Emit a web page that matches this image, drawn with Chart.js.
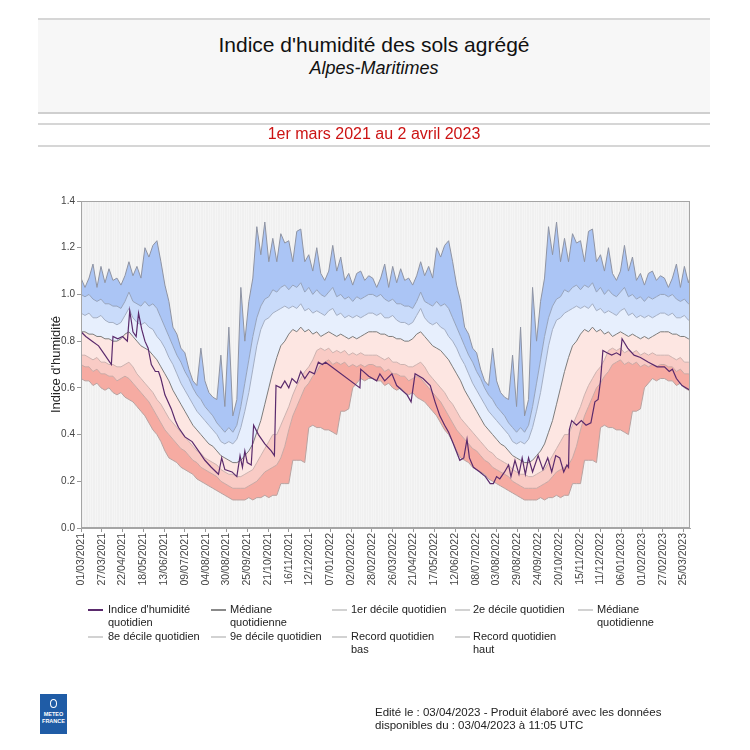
<!DOCTYPE html>
<html lang="fr">
<head>
<meta charset="utf-8">
<title>Indice d'humidité des sols agrégé</title>
<script src="https://cdn.jsdelivr.net/npm/chart.js@4.4.1/dist/chart.umd.min.js"></script>
<style>
  body { margin: 0; background: #fff; font-family: "Liberation Sans", Arial, sans-serif; color: #222; }
  #page { position: relative; width: 750px; height: 750px; overflow: hidden; }
  #chart { position: absolute; left: 0; top: 0; }
  .hline { position: absolute; left: 38px; width: 672px; height: 2px; background: #d6d6d6; }
  #hdr { position: absolute; left: 38px; top: 20px; width: 672px; height: 93px; background: #f7f7f7; }
  .ctr { position: absolute; left: 38px; width: 672px; text-align: center; white-space: nowrap; }
  #title { top: 33px; font-size: 21px; line-height: 24px; color: #111; }
  #sub { top: 58px; font-size: 18px; line-height: 21px; font-style: italic; color: #111; }
  #period { top: 125px; font-size: 16px; line-height: 18px; color: #cc1414; }
  .lg { position: absolute; font-size: 11px; line-height: 13px; color: #222; white-space: nowrap; }
  .sw { position: absolute; width: 15px; height: 1.5px; }
  #logo { position: absolute; left: 40px; top: 694px; width: 27px; height: 40px; background: #1f5ca6; color: #fff;
          font-weight: bold; font-size: 5.5px; line-height: 6.5px; text-align: center; }
  #logo .ico { margin: 5px auto 3px; width: 7px; height: 9px; border: 1.5px solid #fff; border-radius: 50%; box-sizing: border-box; }
  #foot { position: absolute; left: 375px; top: 706px; font-size: 11.5px; line-height: 13px; color: #222; white-space: nowrap; }
</style>
</head>
<body>
<div id="page">
  <canvas id="chart" width="750" height="750"></canvas>
  <div class="hline" style="top:18px"></div>
  <div id="hdr"></div>
  <div class="hline" style="top:112px;background:#cfcfcf"></div>
  <div class="hline" style="top:123px"></div>
  <div class="hline" style="top:145px"></div>
  <div id="title" class="ctr">Indice d'humidité des sols agrégé</div>
  <div id="sub" class="ctr">Alpes-Maritimes</div>
  <div id="period" class="ctr">1er mars 2021 au 2 avril 2023</div>
  <div id="legend"></div>
  <div id="logo"><div class="ico"></div>METEO<br>FRANCE</div>
  <div id="foot">Edité le : 03/04/2023 - Produit élaboré avec les données<br>disponibles du : 03/04/2023 à 11:05 UTC</div>
</div>
<script>
// x tick positions (days since 01/03/2021) and their labels
const tickDays = [0, 26, 52, 78, 104, 130, 156, 182, 208, 234, 260, 286, 312, 338, 364,
                  390, 416, 442, 468, 494, 520, 546, 572, 598, 624, 650, 676, 702, 728, 754];
const tickLabels = ['01/03/2021', '27/03/2021', '22/04/2021', '18/05/2021', '13/06/2021', '09/07/2021',
  '04/08/2021', '30/08/2021', '25/09/2021', '21/10/2021', '16/11/2021', '12/12/2021', '07/01/2022',
  '02/02/2022', '28/02/2022', '26/03/2022', '21/04/2022', '17/05/2022', '12/06/2022', '08/07/2022',
  '03/08/2022', '29/08/2022', '24/09/2022', '20/10/2022', '15/11/2022', '11/12/2022', '06/01/2023',
  '01/02/2023', '27/02/2023', '25/03/2023'];
const lastDay = 762; // 02/04/2023

// daily climatology, one value every 5 days starting 1 March (same each year)
const recordHaut = [1.07,1.03,1.07,1.13,1.03,1.12,1.05,1.11,1.06,1.07, 1.04,1.08,1.14,1.08,1.12,1.07,1.20,1.16,1.21,1.23,
  1.14,1.04,0.97,0.86,0.83,0.77,0.75,0.68,0.63,0.61, 0.77,0.63,0.58,0.56,0.55,0.74,0.52,0.86,0.48,0.55,
  1.03,0.80,0.97,1.07,1.29,1.17,1.31,1.14,1.24,1.14, 1.26,1.22,1.23,1.14,1.27,1.28,1.14,1.17,1.10,1.20,
  1.09,1.06,1.10,1.21,1.10,1.16,1.06,1.09,1.04,1.09, 1.10,1.06,1.08];
const decile9 = [1.00,0.99,1.00,0.98,0.97,0.98,0.96,0.96,0.95,0.95, 0.94,0.97,1.01,0.97,0.96,0.95,0.97,0.95,0.96,0.94,
  0.90,0.86,0.82,0.78,0.74,0.71,0.67,0.64,0.60,0.57, 0.55,0.52,0.50,0.48,0.45,0.43,0.41,0.43,0.41,0.44,
  0.52,0.62,0.72,0.82,0.90,0.95,0.98,0.99,1.02,1.01, 1.03,1.04,1.02,1.04,1.03,1.05,1.01,1.03,1.00,1.02,
  1.00,0.99,1.01,1.03,0.99,1.00,0.98,0.99,0.97,0.99, 0.98,0.99,1.00];
const decile8 = [0.92,0.91,0.92,0.90,0.90,0.91,0.89,0.88,0.88,0.87, 0.88,0.91,0.94,0.90,0.88,0.87,0.88,0.86,0.85,0.82,
  0.80,0.77,0.73,0.70,0.66,0.62,0.59,0.56,0.53,0.50, 0.48,0.46,0.44,0.42,0.40,0.37,0.36,0.37,0.36,0.38,
  0.43,0.50,0.58,0.68,0.78,0.85,0.89,0.90,0.92,0.93, 0.94,0.95,0.94,0.95,0.94,0.96,0.93,0.94,0.92,0.93,
  0.92,0.91,0.93,0.94,0.91,0.92,0.90,0.91,0.90,0.91, 0.90,0.91,0.92];
const mediane = [0.84,0.84,0.83,0.83,0.82,0.82,0.81,0.81,0.80,0.80, 0.81,0.83,0.84,0.82,0.80,0.78,0.77,0.76,0.74,0.72,
  0.69,0.66,0.63,0.59,0.56,0.53,0.50,0.47,0.44,0.42, 0.40,0.38,0.36,0.35,0.33,0.31,0.30,0.29,0.28,0.28,
  0.29,0.31,0.33,0.36,0.41,0.46,0.53,0.60,0.67,0.73, 0.78,0.80,0.83,0.85,0.84,0.86,0.84,0.85,0.83,0.84,
  0.82,0.83,0.84,0.83,0.82,0.83,0.82,0.81,0.82,0.81, 0.82,0.83,0.84];
const decile2 = [0.74,0.74,0.73,0.72,0.73,0.71,0.71,0.70,0.70,0.69, 0.69,0.70,0.71,0.69,0.66,0.64,0.62,0.60,0.58,0.55,
  0.53,0.50,0.47,0.45,0.43,0.41,0.39,0.37,0.35,0.33, 0.32,0.30,0.29,0.28,0.27,0.25,0.24,0.23,0.23,0.22,
  0.22,0.23,0.24,0.25,0.28,0.31,0.34,0.37,0.40,0.40, 0.44,0.48,0.52,0.57,0.61,0.64,0.67,0.69,0.72,0.76,
  0.77,0.76,0.77,0.75,0.76,0.75,0.76,0.74,0.75,0.74, 0.75,0.74,0.74];
const decile1 = [0.70,0.69,0.69,0.67,0.68,0.66,0.66,0.65,0.65,0.63, 0.64,0.65,0.64,0.62,0.60,0.58,0.56,0.54,0.51,0.48,
  0.45,0.42,0.40,0.38,0.36,0.34,0.33,0.31,0.29,0.28, 0.26,0.25,0.24,0.23,0.22,0.20,0.19,0.18,0.17,0.17,
  0.17,0.17,0.18,0.19,0.20,0.22,0.24,0.25,0.26,0.27, 0.30,0.35,0.42,0.48,0.52,0.56,0.60,0.62,0.65,0.67,
  0.70,0.71,0.72,0.70,0.71,0.70,0.71,0.69,0.70,0.69, 0.70,0.69,0.70];
const recordBas = [0.64,0.63,0.63,0.61,0.62,0.60,0.59,0.60,0.58,0.57, 0.58,0.56,0.55,0.54,0.52,0.50,0.48,0.45,0.42,0.40,
  0.37,0.33,0.30,0.29,0.28,0.26,0.25,0.24,0.23,0.21, 0.20,0.19,0.18,0.17,0.16,0.15,0.14,0.13,0.12,0.12,
  0.12,0.12,0.13,0.12,0.13,0.13,0.14,0.13,0.14,0.14, 0.19,0.19,0.19,0.29,0.29,0.29,0.28,0.43,0.44,0.43,
  0.43,0.42,0.42,0.41,0.40,0.50,0.50,0.51,0.60,0.62, 0.64,0.63,0.64];

// observed daily index: [day since 01/03/2021, value]
const indice = [[0,0.84],[6,0.82],[14,0.80],[22,0.78],[30,0.74],[38,0.70],[40,0.82],[46,0.81],[52,0.82],[58,0.80],
  [61,0.93],[65,0.84],[69,0.82],[72,0.92],[76,0.85],[80,0.80],[84,0.77],[88,0.70],[93,0.67],[97,0.67],[100,0.64],
  [105,0.57],[113,0.51],[118,0.46],[122,0.43],[130,0.39],[139,0.37],[147,0.33],[155,0.29],[163,0.26],[172,0.23],
  [176,0.30],[180,0.25],[189,0.24],[195,0.22],[199,0.31],[202,0.26],[205,0.33],[208,0.28],[213,0.27],[216,0.44],
  [222,0.40],[230,0.36],[238,0.33],[242,0.31],[244,0.61],[250,0.60],[255,0.63],[260,0.60],[264,0.64],[270,0.62],
  [275,0.67],[280,0.64],[286,0.67],[292,0.66],[297,0.71],[302,0.70],[306,0.71],[349,0.60],[350,0.68],[360,0.65],
  [370,0.63],[374,0.66],[380,0.63],[389,0.66],[395,0.61],[408,0.57],[413,0.54],[418,0.66],[428,0.64],[437,0.61],
  [443,0.54],[449,0.48],[455,0.44],[460,0.41],[466,0.36],[474,0.29],[479,0.30],[483,0.38],[486,0.30],[491,0.26],
  [499,0.24],[506,0.22],[512,0.19],[516,0.19],[520,0.22],[524,0.21],[530,0.24],[535,0.27],[538,0.22],[543,0.29],
  [548,0.23],[552,0.30],[556,0.23],[560,0.30],[565,0.24],[572,0.31],[578,0.25],[584,0.30],[589,0.24],[594,0.31],
  [599,0.30],[604,0.24],[608,0.27],[610,0.26],[611,0.42],[614,0.46],[620,0.44],[626,0.46],[632,0.44],[638,0.45],
  [643,0.54],[647,0.55],[650,0.63],[653,0.76],[658,0.75],[664,0.74],[670,0.75],[675,0.74],[677,0.81],[684,0.77],
  [692,0.74],[700,0.73],[710,0.71],[721,0.69],[730,0.69],[736,0.67],[740,0.68],[745,0.64],[752,0.61],[762,0.59]];

// spread the yearly climatology over the whole period (same day of year)
function overPeriod(arr) {
  const pts = [];
  for (let d = 0; d <= lastDay + 3; d += 5) pts.push({x: d, y: arr[(d % 365) / 5]});
  return pts;
}

function band(label, arr, line, fillCol) {
  return {
    label, data: overPeriod(arr), borderColor: line, borderWidth: 1,
    backgroundColor: fillCol || 'transparent', fill: fillCol ? '-1' : false,
    pointRadius: 0, tension: 0
  };
}

const plotFrame = {
  id: 'plotFrame',
  beforeDraw(chart) {
    const {ctx, chartArea: a} = chart;
    ctx.save();
    ctx.fillStyle = '#f0f0f0';
    ctx.fillRect(a.left, a.top, a.right - a.left, a.bottom - a.top);
    ctx.restore();
  },
  afterDraw(chart) {
    const {ctx, chartArea: a} = chart;
    ctx.save();
    ctx.strokeStyle = '#a5a5a5';
    ctx.lineWidth = 1;
    ctx.strokeRect(a.left + 0.5, a.top + 0.5, a.right - a.left - 1, a.bottom - a.top - 1);
    ctx.restore();
  }
};

new Chart(document.getElementById('chart'), {
  type: 'line',
  data: {
    datasets: [
      band('Record quotidien bas', recordBas, '#b9a3a1'),
      band('1er décile quotidien', decile1, '#c9a9a5', '#f6aba2'),
      band('2e décile quotidien', decile2, '#cdb3b0', '#f9cbc5'),
      band('Médiane quotidienne', mediane, '#7d7d7d', '#fde6e2'),
      band('8e décile quotidien', decile8, '#a3aec4', '#e7effd'),
      band('9e décile quotidien', decile9, '#95a3bd', '#c9dbfa'),
      band('Record quotidien haut', recordHaut, '#8f94a3', '#abc5f5'),
      {
        label: "Indice d'humidité quotidien",
        data: indice.map(([d, v]) => ({x: d, y: v})),
        borderColor: '#5a2a6c', borderWidth: 1.2, pointRadius: 0, fill: false, tension: 0, order: -1
      }
    ]
  },
  options: {
    responsive: false,
    animation: false,
    layout: { padding: { left: 45, right: 60, top: 201, bottom: 152 } },
    plugins: { legend: { display: false }, tooltip: { enabled: false } },
    scales: {
      x: {
        type: 'linear', min: 0, max: lastDay,
        afterBuildTicks: s => { s.ticks = tickDays.map(v => ({value: v})); },
        afterFit: s => { s.height = 70; },
        ticks: {
          autoSkip: false, minRotation: 90, maxRotation: 90, padding: 1,
          color: '#444', font: { family: 'Liberation Sans', size: 10.5 },
          callback: (v, i) => tickLabels[i]
        },
        grid: { drawOnChartArea: false, tickLength: 4, color: '#999' },
        border: { color: '#a5a5a5' }
      },
      xg: {
        type: 'linear', min: 0, max: lastDay, position: 'bottom',
        afterFit: s => { s.height = 0; },
        ticks: { display: false, stepSize: 3 },
        grid: { color: 'rgba(255,255,255,0.35)', drawTicks: false },
        border: { display: false }
      },
      y: {
        min: 0, max: 1.4,
        afterFit: s => { s.width = 36; },
        ticks: { stepSize: 0.2, padding: 2, color: '#444', font: { family: 'Liberation Sans', size: 10 },
                 callback: v => v.toFixed(1) },
        grid: { drawOnChartArea: false, tickLength: 4, color: '#999' },
        border: { color: '#a5a5a5' },
        title: { display: true, text: "Indice d'humidité", color: '#222',
                 font: { family: 'Liberation Sans', size: 13 } }
      }
    }
  },
  plugins: [plotFrame]
});

// legend, laid out like the original (5 columns, 2 rows)
const legendItems = [
  ["Indice d'humidité<br>quotidien", '#5a2a6c', 88, 108, 603],
  ['Médiane<br>quotidienne', '#8a8a8a', 211, 230, 603],
  ['1er décile quotidien', '#d2d2d2', 332, 351, 603],
  ['2e décile quotidien', '#d2d2d2', 455, 473, 603],
  ['Médiane<br>quotidienne', '#d2d2d2', 578, 597, 603],
  ['8e décile quotidien', '#d2d2d2', 88, 108, 630],
  ['9e décile quotidien', '#d2d2d2', 211, 230, 630],
  ['Record quotidien<br>bas', '#d2d2d2', 332, 351, 630],
  ['Record quotidien<br>haut', '#d2d2d2', 455, 473, 630]
];
const lg = document.getElementById('legend');
legendItems.forEach(([txt, col, sx, tx, ty]) => {
  lg.insertAdjacentHTML('beforeend',
    `<div class="sw" style="left:${sx}px;top:${ty + 6}px;background:${col}"></div>` +
    `<div class="lg" style="left:${tx}px;top:${ty}px">${txt}</div>`);
});
</script>
</body>
</html>
